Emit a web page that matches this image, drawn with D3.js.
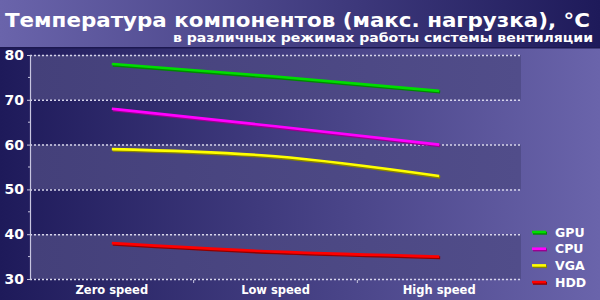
<!DOCTYPE html>
<html>
<head>
<meta charset="utf-8">
<script src="https://cdn.jsdelivr.net/npm/d3@7"></script>
<style>
  body { margin: 0; background: #1e1a5a; }
  svg { display: block; font-family: "DejaVu Sans", Verdana, sans-serif; font-weight: bold; }
</style>
</head>
<body>
<svg id="chart" width="600" height="300"></svg>
<script>
const categories = ["Zero speed", "Low speed", "High speed"];
const seriesNames = ["GPU", "CPU", "VGA", "HDD"];
const seriesColors = ["#00dd00", "#ff00ff", "#ffff00", "#ff0000"];
const shadowColors = ["#008a00", "#9a0090", "#8a8400", "#900000"];
const gpuValues = [78, 75.2, 72];
const cpuValues = [68, 64.1, 60];
const vgaValues = [59, 57.4, 53];
const hddValues = [38, 36.1, 35];
const yTicks = [30, 40, 50, 60, 70, 80];
const titleText = "Температура компонентов (макс. нагрузка), °C";
const subtitleText = "в различных режимах работы системы вентиляции";

const allValues = [gpuValues, cpuValues, vgaValues, hddValues];

const svg = d3.select("#chart");
const defs = svg.append("defs");

function hGrad(id, c1, c2) {
  const g = defs.append("linearGradient").attr("id", id)
    .attr("x1", 0).attr("x2", 1).attr("y1", 0).attr("y2", 0);
  g.append("stop").attr("offset", 0).attr("stop-color", c1);
  g.append("stop").attr("offset", 1).attr("stop-color", c2);
}
hGrad("bgGrad", "#1e1a5a", "#6a64ab");
hGrad("titleGrad", "#6a64ab", "#1e1a5a");
hGrad("bandGrad", "#44407a", "#514d8a");

// background
svg.append("rect").attr("width", 600).attr("height", 300).attr("fill", "url(#bgGrad)");

// title bar
svg.append("rect").attr("width", 600).attr("height", 47).attr("fill", "url(#titleGrad)");
svg.append("rect").attr("y", 47).attr("width", 600).attr("height", 1.5).attr("fill", "#1c1850");

svg.append("text").attr("x", 5).attr("y", 26.5)
  .attr("fill", "#fff").attr("font-size", 20)
  .attr("textLength", 585).attr("lengthAdjust", "spacingAndGlyphs")
  .text(titleText);
svg.append("text").attr("x", 593).attr("y", 42)
  .attr("text-anchor", "end")
  .attr("fill", "#fff").attr("font-size", 12.5)
  .attr("textLength", 420).attr("lengthAdjust", "spacingAndGlyphs")
  .text(subtitleText);

const plotLeft = 30, plotRight = 521, plotTop = 55, plotBottom = 279;

const x = d3.scaleBand().domain(categories).range([plotLeft, plotRight]);
const y = d3.scaleLinear().domain([30, 80]).range([plotBottom, plotTop]);

// alternating bands
const bandStarts = [70, 50, 30];
svg.append("g").selectAll("rect")
  .data(bandStarts)
  .join("rect")
  .attr("x", plotLeft).attr("width", plotRight - plotLeft)
  .attr("y", d => y(d + 10))
  .attr("height", d => y(d) - y(d + 10))
  .attr("fill", "url(#bandGrad)");

// dotted grid lines
svg.append("g").selectAll("line")
  .data(yTicks)
  .join("line")
  .attr("x1", plotLeft).attr("x2", plotRight)
  .attr("y1", d => y(d) + 0.5).attr("y2", d => y(d) + 0.5)
  .attr("stroke", "#d8d6ec").attr("stroke-width", 1.5)
  .attr("stroke-dasharray", "2,2");

// y axis
const yAxis = svg.append("g").attr("transform", `translate(${plotLeft},0)`)
  .call(d3.axisLeft(y).tickValues(yTicks).tickSize(3).tickPadding(3));
yAxis.select(".domain").attr("stroke", "#c8c6e0").attr("stroke-width", 1.2);
yAxis.selectAll(".tick line").attr("stroke", "#c8c6e0");
yAxis.selectAll(".tick text").attr("fill", "#fff").attr("font-size", 14)
  .attr("font-family", "DejaVu Sans, sans-serif").attr("font-weight", "bold");

// minor ticks
svg.append("g").selectAll("line")
  .data([35, 45, 55, 65, 75])
  .join("line")
  .attr("x1", plotLeft - 2).attr("x2", plotLeft)
  .attr("y1", d => y(d)).attr("y2", d => y(d))
  .attr("stroke", "#c8c6e0");

// x axis
const xAxis = svg.append("g").attr("transform", `translate(0,${plotBottom})`)
  .call(d3.axisBottom(x).tickSize(0).tickPadding(7));
xAxis.select(".domain").remove();
xAxis.selectAll(".tick text").attr("fill", "#fff").attr("font-size", 11.5)
  .attr("font-family", "DejaVu Sans, sans-serif").attr("font-weight", "bold");

// small separators between categories
svg.append("g").selectAll("line")
  .data(categories.slice(1))
  .join("line")
  .attr("x1", d => x(d)).attr("x2", d => x(d))
  .attr("y1", plotBottom + 1).attr("y2", plotBottom + 4)
  .attr("stroke", "#c8c6e0");

// series lines
const line = d3.line()
  .x((d, i) => x(categories[i]) + x.bandwidth() / 2)
  .y(d => y(d))
  .curve(d3.curveMonotoneX);

const series = svg.append("g").selectAll("g")
  .data(allValues)
  .join("g");
series.append("path")
  .attr("d", line)
  .attr("transform", "translate(1,1.2)")
  .attr("fill", "none")
  .attr("stroke", (d, i) => shadowColors[i])
  .attr("stroke-width", 3);
series.append("path")
  .attr("d", line)
  .attr("fill", "none")
  .attr("stroke", (d, i) => seriesColors[i])
  .attr("stroke-width", 2.6);

// legend
const legend = svg.append("g").selectAll("g")
  .data(seriesNames)
  .join("g")
  .attr("transform", (d, i) => `translate(532,${232 + i * 16.7})`);
legend.append("line")
  .attr("x1", 1).attr("x2", 15).attr("y1", 1.2).attr("y2", 1.2)
  .attr("stroke", (d, i) => shadowColors[i]).attr("stroke-width", 3);
legend.append("line")
  .attr("x1", 0).attr("x2", 14).attr("y1", 0).attr("y2", 0)
  .attr("stroke", (d, i) => seriesColors[i]).attr("stroke-width", 2.6);
legend.append("text")
  .attr("x", 23).attr("y", 0).attr("dy", "0.36em")
  .attr("fill", "#fff").attr("font-size", 12.5)
  .text(d => d);
</script>
</body>
</html>
